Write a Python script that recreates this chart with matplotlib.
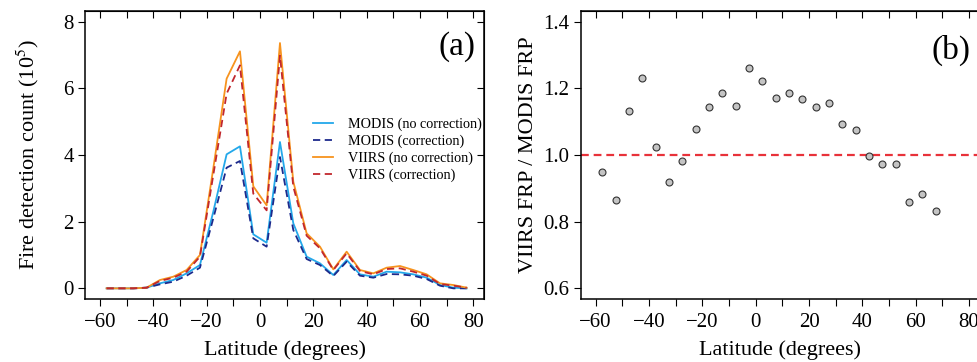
# fire detection count / FRP ratio vs latitude

import matplotlib.pyplot as plt
from matplotlib.ticker import MultipleLocator

plt.rcParams['font.family'] = ['Liberation Serif', 'DejaVu Serif']
plt.rcParams['mathtext.fontset'] = 'stix'

lat = [-57.5, -52.5, -47.5, -42.5, -37.5, -32.5, -27.5, -22.5, -17.5, -12.5,
       -7.5, -2.5, 2.5, 7.5, 12.5, 17.5, 22.5, 27.5, 32.5, 37.5, 42.5, 47.5,
       52.5, 57.5, 62.5, 67.5, 72.5, 77.5]

modis_raw = [0, 0, 0, 0.02, 0.15, 0.25, 0.45, 0.70, 2.3, 4.02, 4.26, 1.62, 1.37,
             4.39, 1.95, 0.95, 0.75, 0.40, 0.85, 0.42, 0.35, 0.50, 0.48, 0.42,
             0.32, 0.10, 0.02, 0.0]
modis_cor = [0, 0, 0, 0.02, 0.12, 0.20, 0.38, 0.62, 2.1, 3.62, 3.82, 1.50, 1.25,
             3.94, 1.75, 0.88, 0.70, 0.37, 0.80, 0.38, 0.32, 0.43, 0.42, 0.38,
             0.28, 0.08, 0.0, 0.0]
viirs_raw = [0, 0, 0, 0.02, 0.25, 0.35, 0.55, 1.00, 3.6, 6.29, 7.11, 3.06, 2.49,
             7.36, 3.20, 1.65, 1.25, 0.57, 1.10, 0.55, 0.45, 0.62, 0.67, 0.55,
             0.42, 0.15, 0.10, 0.02]
viirs_cor = [0, 0, 0, 0.02, 0.22, 0.32, 0.50, 0.95, 3.4, 5.84, 6.69, 2.84, 2.34,
             6.98, 3.05, 1.58, 1.20, 0.55, 1.05, 0.52, 0.42, 0.58, 0.60, 0.50,
             0.38, 0.13, 0.08, 0.02]

ratio_lat = lat[:26]
ratio = [0.949, 0.865, 1.133, 1.230, 1.023, 0.918, 0.981, 1.079, 1.144, 1.186,
         1.147, 1.260, 1.222, 1.171, 1.187, 1.167, 1.143, 1.155, 1.093, 1.074,
         0.997, 0.972, 0.973, 0.860, 0.884, 0.833]

fig = plt.figure(figsize=(9.77, 3.62), dpi=100)
ax1 = fig.add_axes([0.087, 0.174, 0.4084, 0.7956])
ax2 = fig.add_axes([0.5944, 0.174, 0.4084, 0.7956])

def style(ax):
    for s in ax.spines.values():
        s.set_linewidth(1.1)
    ax.xaxis.set_major_locator(MultipleLocator(20))
    ax.xaxis.set_minor_locator(MultipleLocator(10))
    ax.tick_params(axis='x', which='both', direction='out', length=5, width=0.8,
                   labelsize=15, pad=5)
    ax.tick_params(axis='y', which='both', direction='out', length=5, width=0.8,
                   labelsize=15, pad=3)
    # inward ticks on top and right
    sec = ax.secondary_xaxis('top')
    sec.xaxis.set_major_locator(MultipleLocator(10))
    sec.tick_params(direction='in', length=5, width=0.8, labeltop=False)
    ax.set_xlabel('Latitude (degrees)', fontsize=16, labelpad=6)

# panel (a)
ax1.plot(lat, modis_raw, color='#23a8ea', lw=1.3, label='MODIS (no correction)')
ax1.plot(lat, modis_cor, color='#1c2a8c', lw=1.3, dashes=(4, 2.5), label='MODIS (correction)')
ax1.plot(lat, viirs_raw, color='#f7931e', lw=1.3, label='VIIRS (no correction)')
ax1.plot(lat, viirs_cor, color='#c1272d', lw=1.3, dashes=(4, 2.5), label='VIIRS (correction)')
ax1.set_xlim(-65.6, 84)
ax1.set_ylim(-0.32, 8.32)
ax1.set_yticks([0, 2, 4, 6, 8])
style(ax1)
sec1 = ax1.secondary_yaxis('right')
sec1.set_yticks([0, 2, 4, 6, 8])
sec1.tick_params(direction='in', length=5, width=0.8, labelright=False)
ax1.set_ylabel('Fire detection count (10$^5$)', fontsize=16)
ax1.yaxis.set_label_coords(-0.11, 0.5)
ax1.text(0.932, 0.875, '(a)', transform=ax1.transAxes, fontsize=24,
         ha='center', va='center')
ax1.legend(loc='center left', bbox_to_anchor=(0.571, 0.519), frameon=False,
           fontsize=10.2, handlelength=1.45, handletextpad=1.0, labelspacing=0.25,
           borderpad=0, borderaxespad=0)

# panel (b)
ax2.axhline(1.0, color='#e8323a', lw=1.6, dashes=(3.5, 2.2))
ax2.plot(ratio_lat, ratio, 'o', ms=5, mfc='#c4c4c4', mec='#333333', mew=0.8)
ax2.set_xlim(-65.6, 84)
ax2.set_ylim(0.568, 1.432)
ax2.set_yticks([0.6, 0.8, 1.0, 1.2, 1.4])
ax2.set_yticklabels(['0.6', '0.8', '1.0', '1.2', '1.4'])
style(ax2)
ax2.set_ylabel('VIIRS FRP / MODIS FRP', fontsize=16)
ax2.yaxis.set_label_coords(-0.108, 0.5)
ax2.text(0.9275, 0.865, '(b)', transform=ax2.transAxes, fontsize=24,
         ha='center', va='center')

plt.savefig('out.png', dpi=100)
